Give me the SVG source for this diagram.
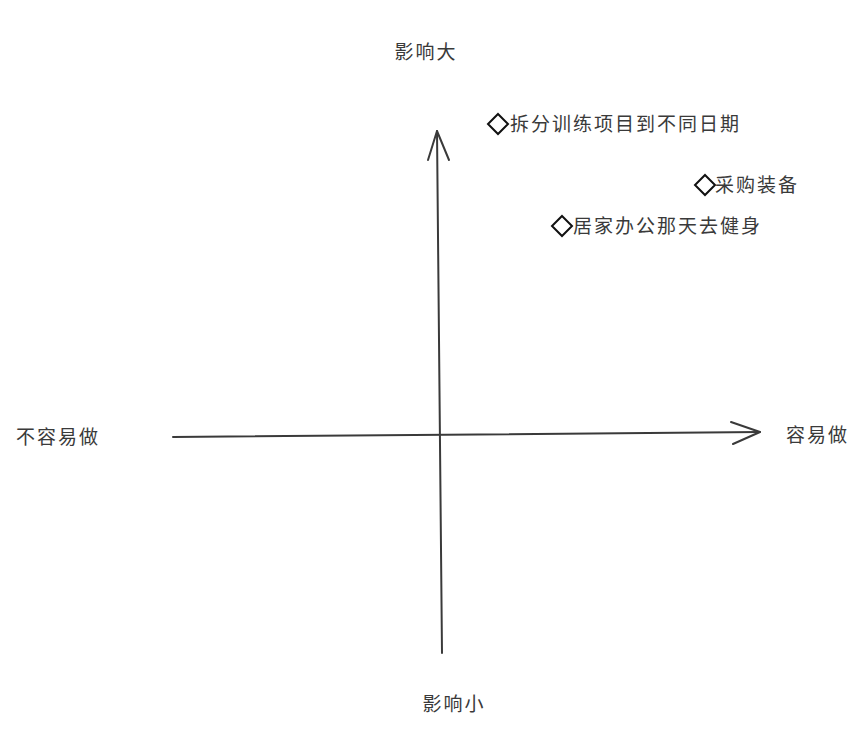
<svg xmlns="http://www.w3.org/2000/svg" width="862" height="730" viewBox="0 0 862 730">
<style>
.t{font-family:"Noto Sans CJK SC","Noto Sans",sans-serif;font-size:19px;fill:#3a3a3a;letter-spacing:2px}
.ax{fill:none;stroke:#3a3a3a;stroke-width:2;stroke-linecap:round;stroke-linejoin:round}
.d{fill:#fff;stroke:#111;stroke-width:2}
</style>
<rect width="862" height="730" fill="#fff"/>
<g id="connectors">
<path class="ax" d="M173,437 L760,432"/>
<path class="ax" d="M731,422 L760,432 L733,444"/>
<path class="ax" d="M442,653 L437,131"/>
<path class="ax" d="M428,160 L437,131 L449,160"/>
</g>
<g id="top"><text class="t" x="426" y="59" text-anchor="middle">影响大</text></g>
<g id="bottom"><text class="t" x="454" y="711" text-anchor="middle">影响小</text></g>
<g id="left"><text class="t" x="16" y="444">不容易做</text></g>
<g id="right"><text class="t" x="786" y="442">容易做</text></g>
<g id="item1"><polygon class="d" points="498,114 508,124 498,134 488,124"/><text class="t" x="510" y="131">拆分训练项目到不同日期</text></g>
<g id="item2"><polygon class="d" points="705,175 715,185 705,195 695,185"/><text class="t" x="715" y="192">采购装备</text></g>
<g id="item3"><polygon class="d" points="562,216 572,226 562,236 552,226"/><text class="t" x="573" y="233">居家办公那天去健身</text></g>
</svg>
